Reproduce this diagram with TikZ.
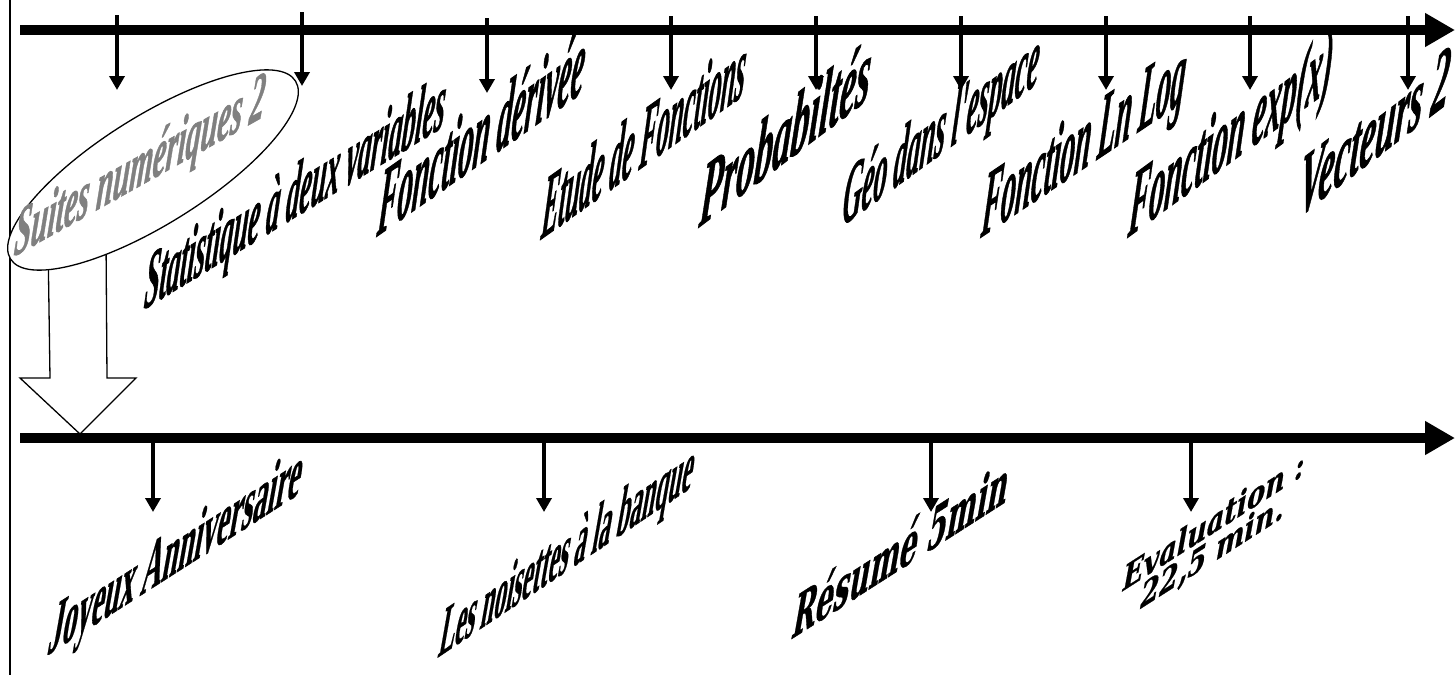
\documentclass[tikz,border=0pt]{standalone}
\usepackage{fontspec}
\setmainfont{Liberation Serif}
\newfontface\topfont[FakeBold=1.2]{Liberation Serif Bold Italic}
\newfontface\botfont[FakeBold=0.8]{Liberation Serif Bold}
\newfontface\resfont[FakeBold=1]{DejaVu Serif Bold}
\newfontface\evalfont[FakeBold=0.8]{DejaVu Serif Bold Italic}
\usepackage{graphicx}
\usetikzlibrary{arrows.meta,shapes.geometric}
\begin{document}
\begin{tikzpicture}[x=1pt,y=-1pt,
  axisline/.style={line width=10pt,-{Triangle[length=30pt,width=32pt]}},
  tickarrow/.style={line width=4pt,-{Triangle[length=14pt,width=15pt]}},
  toplbl/.style={anchor=base west,inner sep=0pt,xslant=0.1,font=\topfont},
  botlbl/.style={anchor=base west,inner sep=0pt,xslant=0.2,font=\botfont},
  hollowarrow/.style={line width=1.3pt,fill=white},
  topic/.style={draw,ellipse,line width=1.3pt,fill=white,inner sep=0pt,minimum width=336pt,minimum height=108pt}
]
\useasboundingbox (0,0) rectangle (1455,675);
% left border line
\draw[line width=2pt] (10,0) -- (10,675);
% hollow block arrow from the ellipse down to the second axis
\draw[hollowarrow] (48,240) -- (50,378) -- (20,378) -- (80,434) -- (136,378) -- (107,378) -- (106,240);
% ellipse
\node[topic,rotate=32] (el) at (153,170) {};
% axes
\coordinate (a1s) at (20,30); \coordinate (a1e) at (1455,30);
\coordinate (a2s) at (20,438); \coordinate (a2e) at (1455,438);
\draw[axisline] (a1s) -- (a1e);
\draw[axisline] (a2s) -- (a2e);
% top ticks
\foreach \i/\x/\ya/\yb in {1/117/15/90,2/302/12/86,3/487/18/93,4/671/16/90,5/816/16/90,6/961/16/90,7/1106/16/90,8/1250/16/90,9/1408/16/90}{
  \coordinate (ta\i) at (\x,\ya); \coordinate (tb\i) at (\x,\yb);
  \draw[tickarrow] (ta\i) -- (tb\i);
}
% bottom ticks
\foreach \i/\x in {1/153,2/544,3/931,4/1191}{
  \coordinate (ba\i) at (\x,438); \coordinate (bb\i) at (\x,512);
  \draw[tickarrow] (ba\i) -- (bb\i);
}
% top labels
\node[yslant=0.56,toplbl,text=black!50] (suites) at (13,257) {\resizebox{250pt}{46pt}{Suites numériques 2}};
\node[yslant=0.61,toplbl] (stat) at (143,310) {\resizebox{300pt}{54pt}{Statistique à deux variables}};
\node[yslant=0.70,toplbl] (deriv) at (376,237) {\resizebox{206pt}{64pt}{Fonction dérivée}};
\node[yslant=0.71,toplbl] (etude) at (540,240) {\resizebox{203pt}{60pt}{Etude de Fonctions}};
\node[yslant=0.756,toplbl] (proba) at (698,228) {\resizebox{170pt}{60pt}{Probabiltés}};
\node[yslant=0.73,toplbl] (geo) at (841,227) {\resizebox{196pt}{56pt}{Géo dans l'espace}};
\node[yslant=0.67,toplbl] (lnlog) at (980,238) {\resizebox{203pt}{62pt}{Fonction Ln Log}};
\node[yslant=0.73,toplbl] (expx) at (1127,238) {\resizebox{203pt}{62pt}{Fonction exp(x)}};
\node[yslant=0.76,toplbl] (vect) at (1297,218) {\resizebox{150pt}{56pt}{Vecteurs 2}};
% bottom labels
\node[yslant=0.64,botlbl] (joy) at (46,656) {\resizebox{252pt}{48pt}{Joyeux Anniversaire}};
\node[yslant=0.67,botlbl] (nois) at (437,658) {\resizebox{253pt}{46pt}{Les noisettes à la banque}};
\node[yslant=0.64,anchor=base west,inner sep=0pt,xslant=0.2,font=\resfont] (resume) at (790,640) {\resizebox{215pt}{44pt}{Résumé 5min}};
\node[yslant=0.64,xslant=0.05,xscale=0.82,inner sep=0pt,align=center,font=\evalfont\fontsize{33}{29}\selectfont] (eval) at (1213,538) {Evaluation :\\22,5 min.};
\end{tikzpicture}
\end{document}
